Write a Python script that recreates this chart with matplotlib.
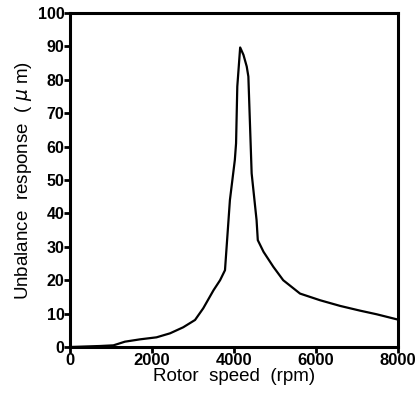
import matplotlib
matplotlib.use("Agg")
import matplotlib.pyplot as plt

# rotor speed (rpm) vs unbalance response (um)
speed = [0, 730, 1060, 1340, 1710, 2110, 2440, 2760, 3050, 3250, 3500, 3660,
         3780, 3900, 4020, 4050, 4080, 4150, 4230, 4310, 4350, 4430, 4550,
         4580, 4720, 4960, 5200, 5610, 6100, 6590, 7070, 7480, 8000]
response = [0, 0.3, 0.5, 1.6, 2.3, 2.9, 4.1, 5.9, 8.1, 11.6, 17, 20,
            23, 44, 56, 61, 78, 89.7, 87.5, 84, 81, 52, 38,
            32, 28.5, 24, 20, 16, 14, 12.3, 10.9, 9.8, 8.2]

xticks = [0, 2000, 4000, 6000, 8000]
yticks = [0, 10, 20, 30, 40, 50, 60, 70, 80, 90, 100]

plt.rcParams['font.family'] = ['Liberation Sans', 'DejaVu Sans']

fig = plt.figure(figsize=(4.19, 3.96), dpi=100)
ax = fig.add_axes([0.167, 0.1237, 0.783, 0.8433])

ax.plot(speed, response, color='black', lw=1.6)

ax.set_xlim(0, 8000)
ax.set_ylim(0, 100)
ax.set_xticks(xticks)
ax.set_yticks(yticks)
ax.set_xticklabels([str(t) for t in xticks], fontsize=12, fontweight='bold')
ax.set_yticklabels([str(t) for t in yticks], fontsize=11.5, fontweight='bold')
ax.tick_params(axis='x', direction='out', length=4, width=2, pad=0)
ax.tick_params(axis='y', direction='out', length=4, width=2, pad=0)

for s in ax.spines.values():
    s.set_linewidth(2.2)

ax.set_xlabel('Rotor  speed  (rpm)', fontsize=13.5, labelpad=0)
ax.set_ylabel('Unbalance  response  ( $\\mu$ m)', fontsize=13.5, labelpad=3)

fig.savefig('out.png', dpi=100)
